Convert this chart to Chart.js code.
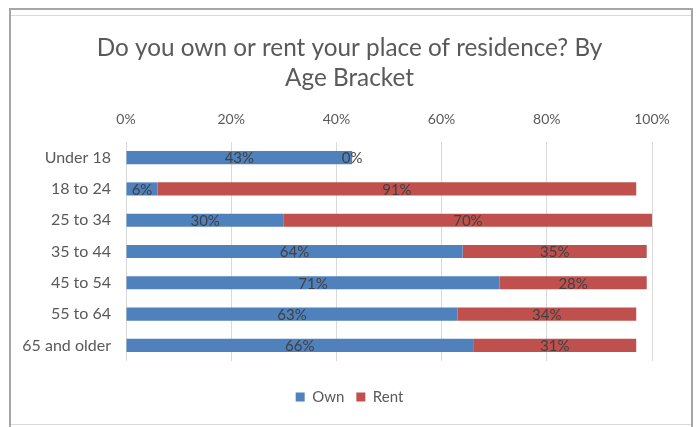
<!DOCTYPE html>
<html>
<head>
<meta charset="utf-8">
<script src="https://cdn.jsdelivr.net/npm/chart.js@4.4.1/dist/chart.umd.min.js"></script>
<style>
  html, body { margin: 0; padding: 0; background: #fff; }
  #wrap { position: relative; width: 699px; height: 427px; overflow: hidden; }
  #frame {
    position: absolute; left: 9px; top: 8px; width: 680px; height: 419px;
    border: 2px solid #a6a6a6; border-bottom: none;
  }
  .rule { position: absolute; left: 11px; width: 680px; height: 1px; background: #d9d9d9; }
  canvas { position: absolute; left: 0; top: 0; }
</style>
</head>
<body>
<div id="wrap">
  <div id="frame"></div>
  <div class="rule" style="top:15px"></div>
  <div class="rule" style="top:424px"></div>
  <canvas id="chart" width="699" height="427"></canvas>
</div>
<script>
const ageBrackets = ['Under 18', '18 to 24', '25 to 34', '35 to 44', '45 to 54', '55 to 64', '65 and older'];
const ownPct  = [43, 6, 30, 64, 71, 63, 66];
const rentPct = [0, 91, 70, 35, 28, 34, 31];
const tickSteps = [0, 20, 40, 60, 80, 100];

const FONT = 'Lato, "Open Sans", sans-serif';
const TEXT = '#595959';

// value text centred on every bar segment
const segmentLabels = {
  id: 'segmentLabels',
  afterDatasetsDraw(chart) {
    const ctx = chart.ctx;
    ctx.save();
    ctx.font = '15px ' + FONT;
    ctx.fillStyle = '#404040';
    ctx.textAlign = 'center';
    ctx.textBaseline = 'middle';
    chart.data.datasets.forEach((ds, i) => {
      chart.getDatasetMeta(i).data.forEach((bar, j) => {
        const p = bar.getProps(['x', 'y', 'base'], true);
        ctx.fillText(ds.data[j] + '%', (p.x + p.base) / 2, p.y + 1);
      });
    });
    ctx.restore();
  }
};

new Chart(document.getElementById('chart'), {
  type: 'bar',
  data: {
    labels: ageBrackets,
    datasets: [
      { label: 'Own',  data: ownPct,  backgroundColor: '#4f81bd', borderWidth: 0 },
      { label: 'Rent', data: rentPct, backgroundColor: '#c0504d', borderWidth: 0 }
    ]
  },
  options: {
    indexAxis: 'y',
    responsive: false,
    animation: false,
    barPercentage: 0.42,
    categoryPercentage: 1,
    layout: { padding: { left: 10, right: 10, top: 0, bottom: 12.5 } },
    scales: {
      x: {
        position: 'top',
        stacked: true,
        min: 0,
        max: 100,
        afterBuildTicks: (scale) => { scale.ticks = tickSteps.map(v => ({ value: v })); },
        afterFit: (scale) => { scale.height = 40; },
        grid: { color: '#d9d9d9', drawTicks: false },
        border: { display: false },
        ticks: { color: TEXT, font: { family: FONT, size: 14 }, padding: 14, callback: v => v + '%' }
      },
      y: {
        stacked: true,
        afterFit: (scale) => { scale.width = 116; },
        grid: { display: false, drawTicks: false },
        border: { display: false },
        ticks: { color: TEXT, font: { family: FONT, size: 16 }, padding: 15 }
      },
      // blank right-hand gutter so the plot stops short of the frame
      gutter: {
        axis: 'y',
        position: 'right',
        afterFit: (scale) => { scale.width = 37; },
        grid: { display: false, drawTicks: false },
        border: { display: false },
        ticks: { display: false }
      }
    },
    plugins: {
      title: {
        display: true,
        text: ['Do you own or rent your place of residence? By', 'Age Bracket'],
        color: TEXT,
        font: { family: FONT, size: 24.3, weight: 'normal', lineHeight: '30px' },
        padding: { top: 33, bottom: 9 }
      },
      legend: {
        position: 'bottom',
        title: { display: true, text: '', font: { size: 1, lineHeight: 1 }, padding: { top: 15.5, bottom: 0 } },
        labels: { color: TEXT, font: { family: FONT, size: 15 }, boxWidth: 9, boxHeight: 9, padding: 12 }
      },
      tooltip: { enabled: false }
    }
  },
  plugins: [segmentLabels]
});
</script>
</body>
</html>
